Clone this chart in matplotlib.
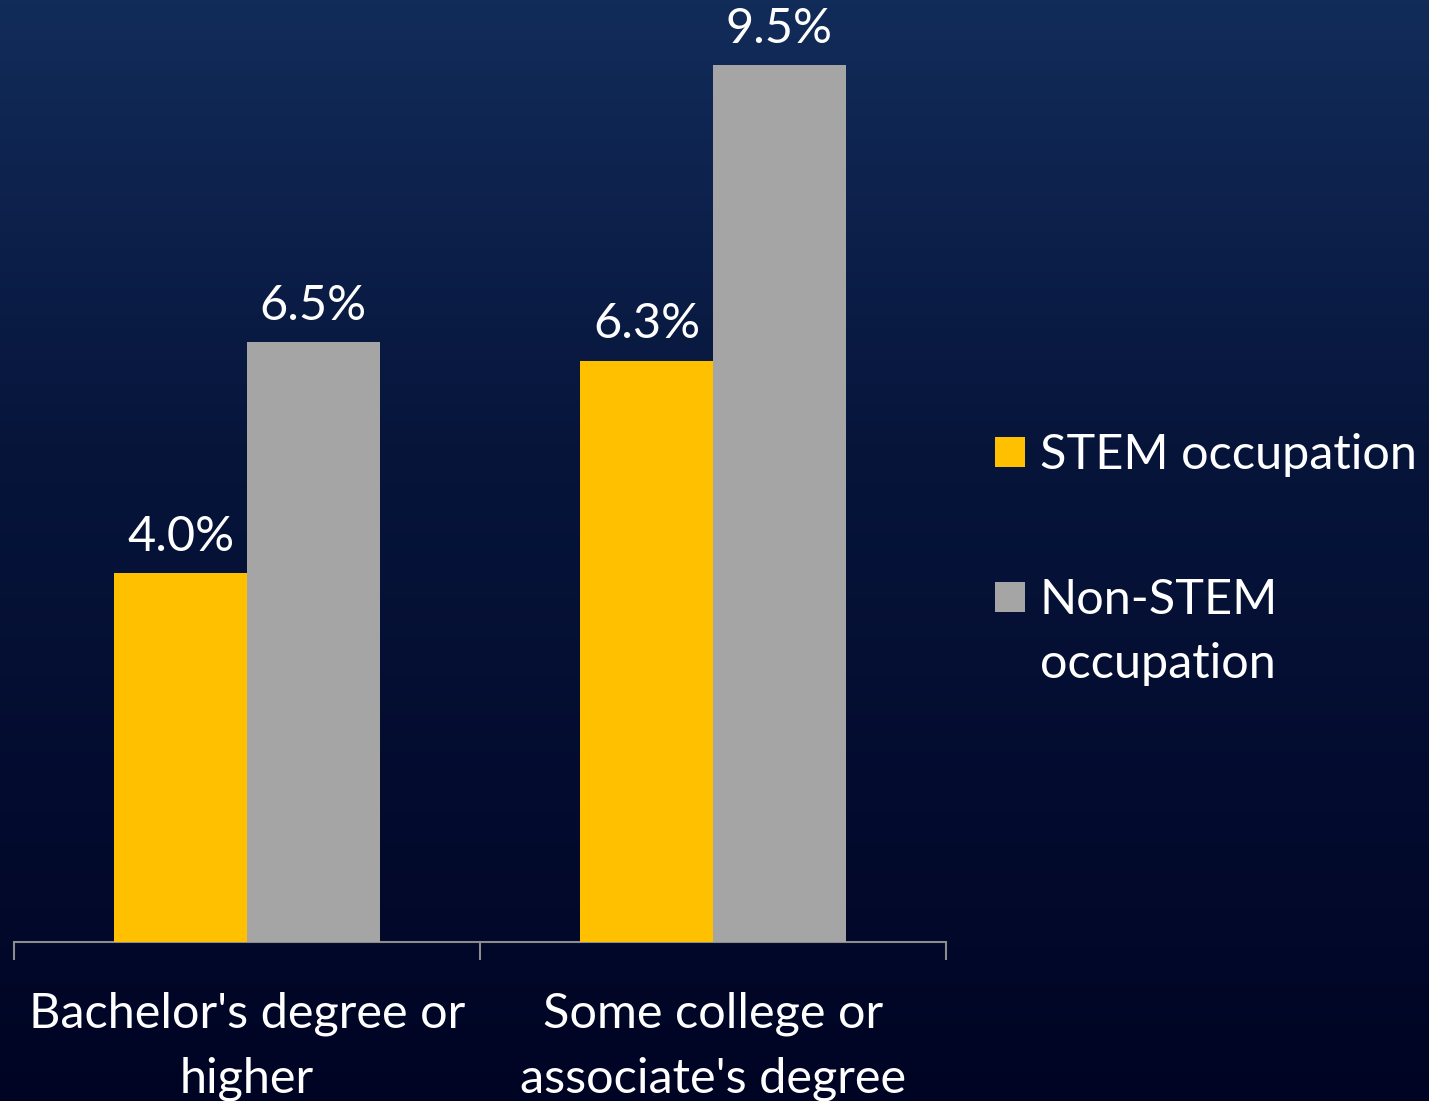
import numpy as np
import matplotlib
matplotlib.use('Agg')
import matplotlib.pyplot as plt
from matplotlib.colors import LinearSegmentedColormap
from matplotlib.patches import Rectangle

plt.rcParams['font.family'] = ['Lato', 'DejaVu Sans']

# data
categories = ["Bachelor's degree or\nhigher", "Some college or\nassociate's degree"]
series_names = ['STEM occupation', 'Non-STEM\noccupation']
stem_values = [4.0, 6.3]
nonstem_values = [6.5, 9.5]
bar_colors = ['#FFC000', '#A5A5A5']

W, H = 1429, 1101
FS = 35
fig = plt.figure(figsize=(W / 100, H / 100), dpi=100)

# gradient background
bg = fig.add_axes([0, 0, 1, 1], zorder=-10)
bg_cmap = LinearSegmentedColormap.from_list(
    'bg', [(0.0, '#122c5a'), (0.4, '#07153b'), (1.0, '#000424')])
grad = np.linspace(0, 1, 256).reshape(-1, 1)
bg.imshow(grad, aspect='auto', cmap=bg_cmap, extent=[0, 1, 1, 0])
bg.set_axis_off()

ax = fig.add_axes([14 / W, (H - 942) / H, (946 - 14) / W, 942 / H])
ax.set_facecolor('none')

x = np.arange(len(categories))
width = 0.285
b1 = ax.bar(x - width / 2, stem_values, width, color=bar_colors[0], zorder=3)
b2 = ax.bar(x + width / 2, nonstem_values, width, color=bar_colors[1], zorder=3)

for bars, vals in [(b1, stem_values), (b2, nonstem_values)]:
    for rect, v in zip(bars, vals):
        ax.annotate(f'{v:.1f}%', (rect.get_x() + rect.get_width() / 2, rect.get_height()),
                    xytext=(0, 16), textcoords='offset points',
                    ha='center', va='baseline', color='white', fontsize=FS)

ax.set_xlim(-0.5, 1.5)
ax.set_ylim(0, 942 / 92.3)

for s in ['left', 'right', 'top']:
    ax.spines[s].set_visible(False)
ax.spines['bottom'].set_color('#8c8c8c')
ax.spines['bottom'].set_linewidth(1.5)
ax.set_yticks([])

# boundary ticks as major, category labels as minor
ax.set_xticks([-0.5, 0.5, 1.5])
ax.set_xticklabels([])
ax.tick_params(axis='x', which='major', length=13, width=1.5, color='#8c8c8c', direction='out')
ax.set_xticks(x, minor=True)
ax.set_xticklabels(categories, minor=True, color='white', fontsize=FS, linespacing=1.55)
ax.tick_params(axis='x', which='minor', length=0, pad=36)

# legend drawn by hand
legend_rows = [452, 597]
line_step = 64
for name, color, yc in zip(series_names, bar_colors, legend_rows):
    fig.patches.append(Rectangle((995 / W, 1 - (yc + 15) / H), 30 / W, 30 / H,
                                 transform=fig.transFigure, facecolor=color,
                                 edgecolor='none'))
    for i, line in enumerate(name.split('\n')):
        fig.text(1040 / W, 1 - (yc + 17 + i * line_step) / H, line, color='white',
                 fontsize=FS, ha='left', va='baseline')

fig.savefig('out.png', dpi=100)
